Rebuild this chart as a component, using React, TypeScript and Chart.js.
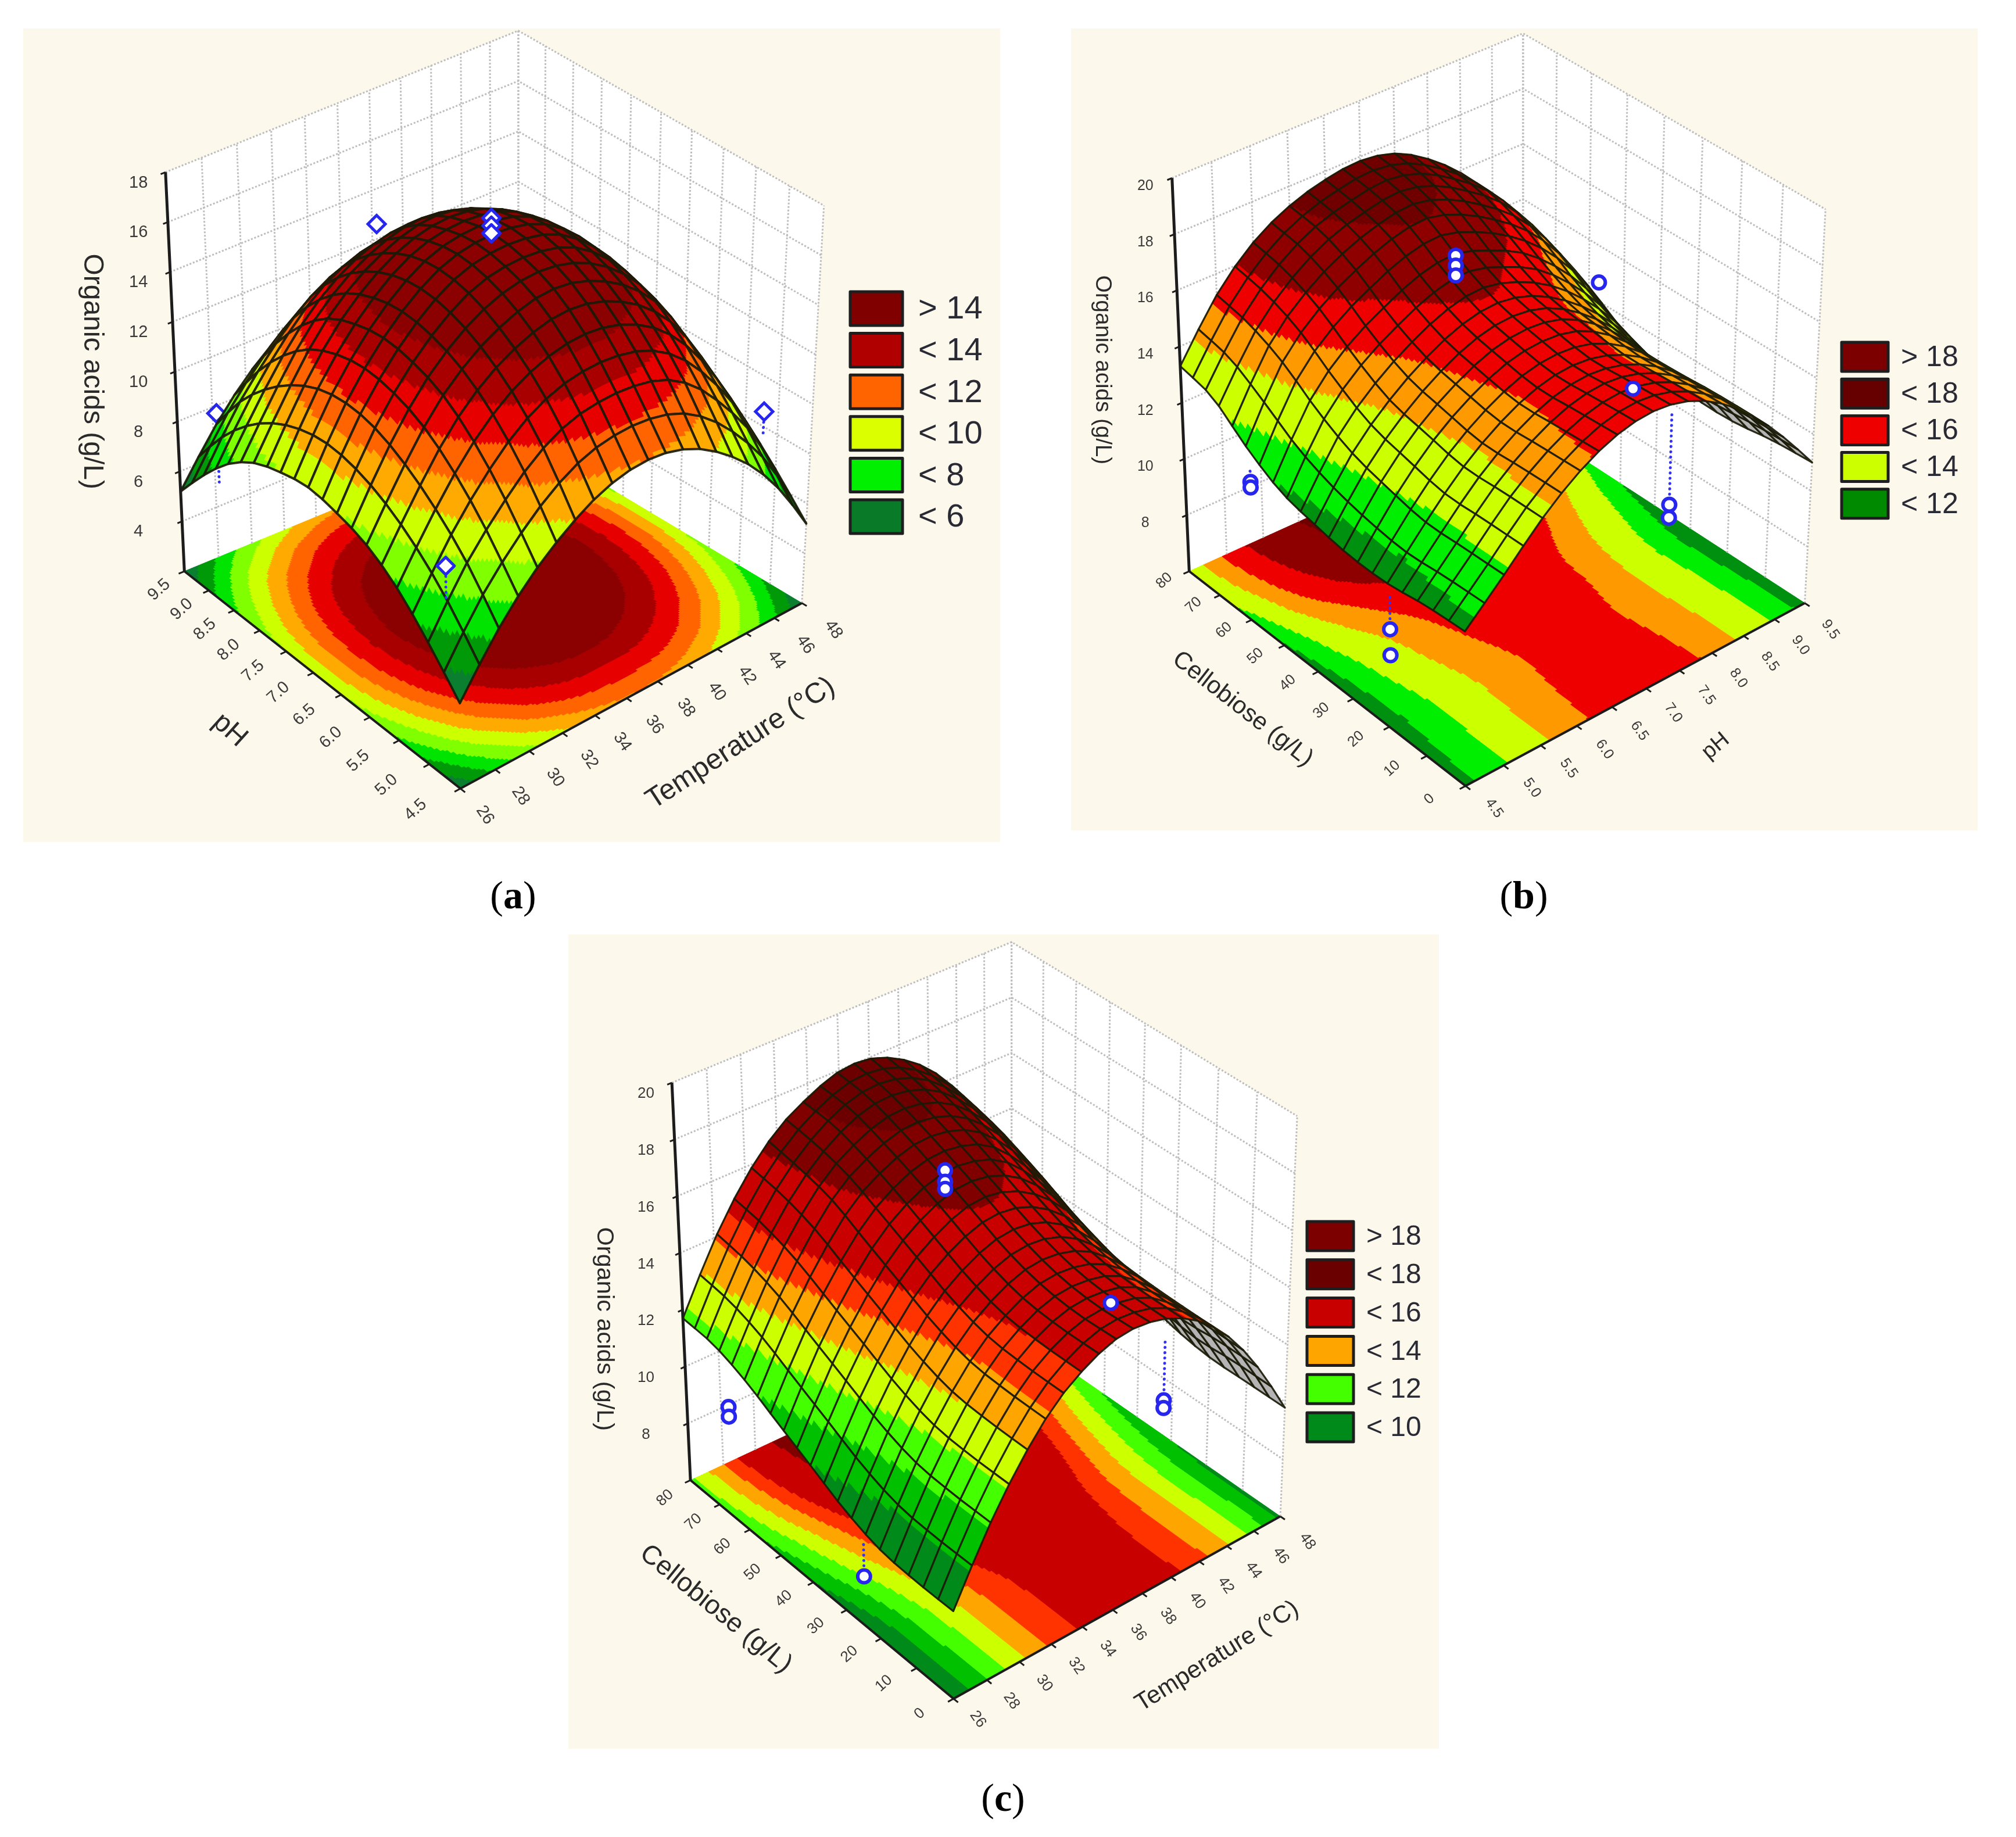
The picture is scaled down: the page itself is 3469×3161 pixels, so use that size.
import React, { useEffect, useRef } from 'react';
import { Chart, registerables } from 'chart.js';
Chart.register(...registerables);

const PH_TICKS = [4.5, 5.0, 5.5, 6.0, 6.5, 7.0, 7.5, 8.0, 8.5, 9.0, 9.5];
const TEMP_TICKS = [26, 28, 30, 32, 34, 36, 38, 40, 42, 44, 46, 48];
const CELLOBIOSE_TICKS = [0, 10, 20, 30, 40, 50, 60, 70, 80];
const Z_TICKS_A = [4, 6, 8, 10, 12, 14, 16, 18];
const Z_TICKS_BC = [8, 10, 12, 14, 16, 18, 20];

// rows: pH 4.5 → 9.5, columns: temperature 26 → 48
const Z_A = [
  [5.2, 7.1, 8.6, 9.7, 10.5, 10.9, 10.9, 10.5, 9.7, 8.6, 7.1, 5.2],
  [6.6, 8.7, 10.3, 11.6, 12.4, 12.7, 12.7, 12.4, 11.6, 10.3, 8.7, 6.6],
  [7.8, 9.9, 11.7, 13.0, 13.8, 14.2, 14.2, 13.8, 13.0, 11.7, 9.9, 7.8],
  [8.6, 10.8, 12.7, 13.95, 14.75, 15.2, 15.2, 14.75, 13.95, 12.7, 10.8, 8.6],
  [9.0, 11.4, 13.2, 14.5, 15.35, 15.7, 15.7, 15.35, 14.5, 13.2, 11.4, 9.0],
  [9.2, 11.6, 13.4, 14.7, 15.55, 15.9, 15.9, 15.55, 14.7, 13.4, 11.6, 9.2],
  [9.0, 11.4, 13.2, 14.5, 15.35, 15.7, 15.7, 15.35, 14.5, 13.2, 11.4, 9.0],
  [8.6, 10.8, 12.7, 13.95, 14.75, 15.2, 15.2, 14.75, 13.95, 12.7, 10.8, 8.6],
  [7.8, 9.9, 11.7, 13.0, 13.8, 14.2, 14.2, 13.8, 13.0, 11.7, 9.9, 7.8],
  [6.6, 8.7, 10.3, 11.6, 12.4, 12.7, 12.7, 12.4, 11.6, 10.3, 8.7, 6.6],
  [5.2, 7.1, 8.6, 9.7, 10.5, 10.9, 10.9, 10.5, 9.7, 8.6, 7.1, 5.2],
];
// rows: cellobiose 0 → 80, columns: pH 4.5 → 9.5
const Z_B = [
  [11.2, 12.45, 13.74, 14.74, 15.38, 15.6, 15.38, 14.74, 13.74, 12.45, 11.0],
  [11.1, 12.4, 13.7, 14.66, 15.28, 15.5, 15.28, 14.66, 13.7, 12.4, 10.9],
  [10.9, 12.35, 13.64, 14.58, 15.19, 15.4, 15.19, 14.58, 13.6, 12.3, 10.7],
  [10.9, 12.6, 13.9, 14.8, 15.4, 15.6, 15.4, 14.7, 13.6, 12.2, 10.7],
  [11.1, 12.95, 14.2, 15.1, 15.7, 15.9, 15.6, 14.9, 13.9, 12.6, 11.0],
  [11.4, 13.6, 14.9, 15.7, 16.3, 16.5, 16.1, 15.5, 14.5, 13.2, 11.5],
  [12.1, 14.45, 15.75, 16.55, 17.1, 17.3, 16.9, 16.2, 15.3, 14.0, 12.3],
  [13.0, 15.0, 16.3, 17.1, 17.5, 17.7, 17.4, 16.7, 15.8, 14.5, 12.8],
  [13.3, 15.25, 16.55, 17.3, 17.7, 17.85, 17.6, 16.9, 15.9, 14.6, 12.9],
];
// rows: cellobiose 0 → 80, columns: temperature 26 → 48
const Z_C = [
  [8.9, 11.0, 12.7, 14.0, 14.8, 15.25, 15.25, 14.9, 14.2, 13.1, 11.6, 9.8],
  [8.9, 11.0, 12.7, 14.0, 14.8, 15.2, 15.2, 14.9, 14.1, 13.1, 11.6, 9.8],
  [9.0, 11.1, 12.8, 14.1, 14.9, 15.35, 15.35, 15.0, 14.2, 13.1, 11.5, 9.8],
  [9.4, 11.5, 13.2, 14.5, 15.3, 15.75, 15.75, 15.3, 14.4, 13.2, 11.7, 10.0],
  [10.0, 12.1, 13.8, 15.1, 15.9, 16.35, 16.3, 15.8, 14.9, 13.6, 12.1, 10.4],
  [10.6, 12.7, 14.4, 15.7, 16.5, 16.9, 16.85, 16.4, 15.4, 14.1, 12.6, 10.9],
  [11.2, 13.3, 15.0, 16.3, 17.0, 17.4, 17.35, 16.9, 16.0, 14.7, 13.2, 11.5],
  [11.6, 13.7, 15.4, 16.6, 17.4, 17.8, 17.75, 17.3, 16.4, 15.2, 13.7, 12.0],
  [11.7, 13.9, 15.6, 16.8, 17.5, 17.95, 17.95, 17.5, 16.7, 15.5, 14.0, 12.3],
];

// each: axis A value, axis B value, organic acids, end of the drop line (or null)
const MARKERS_BACK_A = [[39, 9.5, 12.6, null], [28.5, 9.5, 7.7, 4.8], [48, 5.3, 8.6, 7.7]];
const MARKERS_FRONT_A = [[37, 7, 17.0, null], [37, 7, 16.7, null], [37, 7, 16.4, null], [26.4, 4.85, 9.7, 8.4]];
const MARKERS_BACK_B = [[5.25, 76, 8.75, 9.15], [5.25, 76, 8.55, null], [8.5, 20, 9.1, 12.3], [8.5, 20, 8.64, null], [4.75, 26.4, 8.65, 9.9], [4.75, 26.4, 7.76, null]];
const MARKERS_FRONT_B = [[7, 51, 17.05, null], [7, 51, 16.7, null], [7, 51, 16.35, null], [8.9, 48, 14.25, null], [8.14, 24, 13.3, null]];
const MARKERS_BACK_C = [[44.5, 20, 9.4, 11.6], [44.5, 20, 9.13, null], [27.9, 76, 8.5, null], [27.9, 76, 8.16, null], [31.3, 72, 7.9, null], [27.1, 32, 6.9, 8]];
const MARKERS_FRONT_C = [[37, 51, 16.8, null], [37, 51, 16.4, null], [37, 51, 16.15, null], [41.75, 24, 13.2, null]];

const LEGEND_LABELS_A = ['> 14', '< 14', '< 12', '< 10', '< 8', '< 6'];
const LEGEND_COLORS_A = ['#800000', '#b00000', '#ff6400', '#dcff00', '#00f000', '#087a28'];
const LEGEND_LABELS_B = ['> 18', '< 18', '< 16', '< 14', '< 12'];
const LEGEND_COLORS_B = ['#7c0000', '#660000', '#ee0000', '#ccff00', '#008a00'];
const LEGEND_LABELS_C = ['> 18', '< 18', '< 16', '< 14', '< 12', '< 10'];
const LEGEND_COLORS_C = ['#7c0000', '#6a0000', '#c80000', '#ffa500', '#44ff00', '#008a1a'];

const LEVELS_A = [6, 7, 8, 9, 10, 11, 12, 13, 14];
const BANDS_A = ['#0a7f30', '#009a08', '#00e400', '#80ff00', '#ccff00', '#ffaa00', '#ff6400', '#e60000', '#a80000', '#8b0000'];
const LEVELS_B = [11.5, 12.6, 14, 15, 16, 17.3];
const BANDS_B = ['#009010', '#00ee00', '#ccff00', '#ff9900', '#ee0000', '#8e0000', '#700000'];
const LEVELS_C = [10, 11, 12, 13, 13.9, 14.7, 16.3, 17.4];
const BANDS_C = ['#008a1a', '#00c000', '#44ff00', '#ccff00', '#ffa500', '#ff3300', '#c80000', '#800000', '#6c0000'];

type Pt = [number, number];
const PANELS: any[] = [
  {
    rect: [40, 49, 1681, 1400], view: [30, 30, 1700 / 1568, 1430 / 1568],
    F: [703, 1455], R: [1245, 1105], L: [265, 1045], B: [795, 785],
    FT: [699, 650], RT: [1280, 355], LT: [235, 292], BT: [795, 25],
    zMin: 2, zMax: 18, zTicks: Z_TICKS_A, z: Z_A,
    aTicks: TEMP_TICKS, bTicks: PH_TICKS, aDec: 0, bDec: 1,
    meshA: 20, meshB: 20, sub: 8, grey: false, meshWidth: 4,
    levels: LEVELS_A, bands: BANDS_A,
    markersBack: MARKERS_BACK_A, markersFront: MARKERS_FRONT_A, markerStyle: 'rectRot', markerR: 15, markerW: 5,
    aOff: [[39, 50], [50, 50]], bOff: [[-71, 40], [-40, 35]], aRot: 56, bRot: -42, tickFont: 29,
    zLabelX: 192, zLabelDy: 20,
    titles: [
      { text: 'Organic acids (g/L)', at: [118, 668], rot: 90, size: 48 },
      { text: 'pH', at: [337, 1345], rot: 42, size: 48 },
      { text: 'Temperature (°C)', at: [1148, 1370], rot: -33, size: 49 },
    ],
    legend: { labels: LEGEND_LABELS_A, colors: LEGEND_COLORS_A, x: 1463, y: 502, w: 90, h: 58, pitch: 71.6, tx: 1580, size: 56 },
  },
  {
    rect: [1843, 49, 1560, 1380], view: [1830, 30, 1600 / 1568, 1430 / 1568],
    F: [678, 1450], R: [1250, 1105], L: [212, 1045], B: [775, 760],
    FT: [675, 665], RT: [1285, 362], LT: [183, 303], BT: [775, 30],
    zMin: 6, zMax: 20, zTicks: Z_TICKS_BC, z: Z_B,
    aTicks: PH_TICKS, bTicks: CELLOBIOSE_TICKS, aDec: 1, bDec: 0,
    meshA: 20, meshB: 20, sub: 8, grey: true, meshWidth: 3.2,
    levels: LEVELS_B, bands: BANDS_B,
    markersBack: MARKERS_BACK_B, markersFront: MARKERS_FRONT_B, markerStyle: 'circle', markerR: 11, markerW: 6,
    aOff: [[48, 42], [43, 50]], bOff: [[-61, 25], [-42, 18]], aRot: 55, bRot: -42, tickFont: 25,
    zLabelX: 138, zLabelDy: 15,
    titles: [
      { text: 'Organic acids (g/L)', at: [65, 665], rot: 90, size: 38.5 },
      { text: 'Cellobiose (g/L)', at: [302, 1305], rot: 38, size: 42 },
      { text: 'pH', at: [1100, 1375], rot: -40, size: 38 },
    ],
    legend: { labels: LEGEND_LABELS_B, colors: LEGEND_COLORS_B, x: 3169, y: 589, w: 80, h: 50, pitch: 63.2, tx: 3271, size: 50 },
  },
  {
    rect: [978, 1608, 1498, 1401], view: [970, 1600, 1520 / 1568, 1500 / 1568],
    F: [692, 1383], R: [1272, 1055], L: [225, 990], B: [795, 720],
    FT: [690, 623], RT: [1302, 335], LT: [192, 275], BT: [795, 22],
    zMin: 6, zMax: 20, zTicks: Z_TICKS_BC, z: Z_C,
    aTicks: TEMP_TICKS, bTicks: CELLOBIOSE_TICKS, aDec: 0, bDec: 0,
    meshA: 20, meshB: 20, sub: 8, grey: true, meshWidth: 3.2,
    levels: LEVELS_C, bands: BANDS_C,
    markersBack: MARKERS_BACK_C, markersFront: MARKERS_FRONT_C, markerStyle: 'circle', markerR: 11, markerW: 6,
    aOff: [[43, 37], [48, 45]], bOff: [[-60, 27], [-45, 32]], aRot: 55, bRot: -42, tickFont: 26,
    zLabelX: 146, zLabelDy: 20,
    titles: [
      { text: 'Organic acids (g/L)', at: [72, 718], rot: 90, size: 41.5 },
      { text: 'Cellobiose (g/L)', at: [270, 1222], rot: 39, size: 46 },
      { text: 'Temperature (°C)', at: [1160, 1307], rot: -32, size: 42 },
    ],
    legend: { labels: LEGEND_LABELS_C, colors: LEGEND_COLORS_C, x: 2249, y: 2102, w: 80, h: 50, pitch: 65.8, tx: 2351, size: 48 },
  },
];

const CAPTIONS = [
  { letter: 'a', x: 883, y: 1540 },
  { letter: 'b', x: 2622, y: 1540 },
  { letter: 'c', x: 1726, y: 3093 },
];
const CREAM = '#fdf8ec';
const PERSPECTIVE = 1.14;

function cr(arr: number[], f: number) {
  const n = arr.length;
  const i = Math.max(0, Math.min(Math.floor(f), n - 2));
  const t = f - i;
  const p1 = arr[i], p2 = arr[i + 1];
  const p0 = i > 0 ? arr[i - 1] : 2 * p1 - p2;
  const p3 = i + 2 < n ? arr[i + 2] : 2 * p2 - p1;
  return 0.5 * (2 * p1 + (p2 - p0) * t + (2 * p0 - 5 * p1 + 4 * p2 - p3) * t * t + (3 * p1 - p0 - 3 * p2 + p3) * t * t * t);
}

function geometry(p: any) {
  const [vx, vy, kx, ky] = p.view;
  const [left, top] = p.rect;
  const conv = (q: number[]): Pt => [vx + q[0] * kx - left, vy + q[1] * ky - top];
  const c: any = {};
  for (const k of ['F', 'R', 'L', 'B', 'FT', 'RT', 'LT', 'BT']) c[k] = conv(p[k]);
  const raw = (a: number, b: number, z: number): Pt => {
    const t = (z - p.zMin) / (p.zMax - p.zMin);
    const out: Pt = [0, 0];
    for (const i of [0, 1]) {
      const lo = c.F[i] * (1 - a) * (1 - b) + c.R[i] * a * (1 - b) + c.L[i] * (1 - a) * b + c.B[i] * a * b;
      const hi = c.FT[i] * (1 - a) * (1 - b) + c.RT[i] * a * (1 - b) + c.LT[i] * (1 - a) * b + c.BT[i] * a * b;
      out[i] = lo + (hi - lo) * t;
    }
    return out;
  };
  const warp = (s: number) => (s * PERSPECTIVE) / (1 + (PERSPECTIVE - 1) * s);
  const project = (a: number, b: number, z: number): Pt => raw(warp(a), warp(b), z);
  const fa = (v: number) => (v - p.aTicks[0]) / (p.aTicks[p.aTicks.length - 1] - p.aTicks[0]);
  const fb = (v: number) => (v - p.bTicks[0]) / (p.bTicks[p.bTicks.length - 1] - p.bTicks[0]);
  return { conv, project, raw, fa, fb, c };
}

function buildChart(canvas: HTMLCanvasElement, p: any) {
  const g = geometry(p);
  const { project, raw, fa, fb, conv } = g;
  const W = p.rect[2], H = p.rect[3];
  const pts = (list: Pt[]) => list.map((q) => ({ x: q[0], y: q[1] }));
  const NA = p.meshA * p.sub, NB = p.meshB * p.sub;
  const rows: number[][] = p.z;
  const colCount = rows[0].length, rowCount = rows.length;

  const table: { a: number; b: number; z: number }[][] = [];
  for (let j = 0; j <= NB; j++) {
    const line: any[] = [];
    const fj = (j / NB) * (rowCount - 1);
    for (let i = 0; i <= NA; i++) {
      const fi = (i / NA) * (colCount - 1);
      const col = rows.map((r) => cr(r, fi));
      line.push({ a: i / NA, b: j / NB, z: cr(col, fj) });
    }
    table.push(line);
  }
  const colorOf = (z: number) => {
    let k = 0;
    while (k < p.levels.length && z >= p.levels[k]) k++;
    return p.bands[k];
  };

  const layers: any[] = [];
  const line = (list: Pt[], color: string, width: number, dash?: number[], cap?: string) =>
    layers.push({ data: pts(list), showLine: true, borderColor: color, borderWidth: width, borderDash: dash || [], borderCapStyle: cap || 'butt', pointRadius: 0, fill: false, tension: 0, clip: false });

  const gridC = '#bdbdbd';
  const gridDash = [3, 3];
  for (const z of p.zTicks) line([project(0, 1, z), project(1, 1, z), project(1, 0, z)], gridC, 3, gridDash);
  if (p.zMax !== p.zTicks[p.zTicks.length - 1]) line([project(0, 1, p.zMax), project(1, 1, p.zMax), project(1, 0, p.zMax)], gridC, 3, gridDash);
  for (const t of p.aTicks) line([project(fa(t), 1, p.zMin), project(fa(t), 1, p.zMax)], gridC, 3, gridDash);
  for (const t of p.bTicks) line([project(1, fb(t), p.zMin), project(1, fb(t), p.zMax)], gridC, 3, gridDash);

  const addMarkers = (list: any[]) => {
    for (const m of list) {
      const a = fa(m[0]), b = fb(m[1]);
      if (m[3] !== null) line([raw(a, b, m[2]), raw(a, b, m[3])], '#3232f5', 5, [0.1, 9], 'round');
    }
    layers.push({
      data: pts(list.map((m) => raw(fa(m[0]), fb(m[1]), m[2]))),
      showLine: false, pointStyle: p.markerStyle, pointRadius: p.markerR,
      pointBackgroundColor: '#ffffff', pointBorderColor: '#2626ee', pointBorderWidth: p.markerW, clip: false,
    });
  };
  addMarkers(p.markersBack);

  layers.push({
    stage: 'surface', showLine: false, pointRadius: 0,
    data: pts(rows.flatMap((r, j) => r.map((z, i) => project(i / (colCount - 1), j / (rowCount - 1), z)))),
  });

  const axisC = '#1c1c1c';
  line([project(0, 1, p.zMin), project(0, 1, p.zMax)], axisC, 5);
  line([project(0, 1, p.zMin), project(0, 0, p.zMin), project(1, 0, p.zMin)], axisC, 4);
  for (const t of p.aTicks) line([project(fa(t), 0, p.zMin), project(fa(t), -0.015, p.zMin)], axisC, 3);
  for (const t of p.bTicks) line([project(0, fb(t), p.zMin), project(-0.015, fb(t), p.zMin)], axisC, 3);
  for (const z of p.zTicks) line([project(0, 1, z), project(-0.012, 1, z)], axisC, 3);
  addMarkers(p.markersFront);

  layers.forEach((d, i) => { d.order = layers.length - i; });

  const plugin = {
    id: 'surface3d',
    beforeDatasetsDraw(chart: any) {
      const ctx = chart.ctx;
      const sx = chart.scales.x, sy = chart.scales.y;
      const px = (q: Pt): Pt => [sx.getPixelForValue(q[0]), sy.getPixelForValue(q[1])];
      ctx.fillStyle = '#ffffff';
      for (const poly of [[[0, 1], [1, 1]], [[1, 1], [1, 0]]]) {
        const [u, v] = poly;
        const q = [project(u[0], u[1], p.zMin), project(v[0], v[1], p.zMin), project(v[0], v[1], p.zMax), project(u[0], u[1], p.zMax)].map(px);
        ctx.beginPath();
        q.forEach((o, i) => (i ? ctx.lineTo(o[0], o[1]) : ctx.moveTo(o[0], o[1])));
        ctx.closePath();
        ctx.fill();
      }
      const paths = new Map<string, Path2D>();
      for (let j = 0; j < NB; j++) {
        for (let i = 0; i < NA; i++) {
          const cs = [table[j][i], table[j][i + 1], table[j + 1][i + 1], table[j + 1][i]];
          const col = colorOf((cs[0].z + cs[1].z + cs[2].z + cs[3].z) / 4);
          let path = paths.get(col);
          if (!path) { path = new Path2D(); paths.set(col, path); }
          cs.forEach((c, k) => {
            const o = px(project(c.a, c.b, p.zMin));
            k ? path!.lineTo(o[0], o[1]) : path!.moveTo(o[0], o[1]);
          });
          path.closePath();
        }
      }
      ctx.lineWidth = 1;
      paths.forEach((path, col) => {
        ctx.fillStyle = col; ctx.strokeStyle = col;
        ctx.fill(path); ctx.stroke(path);
      });
    },
    beforeDatasetDraw(chart: any, args: any) {
      const ds = chart.data.datasets[args.index];
      if (ds.stage !== 'surface') return;
      const ctx = chart.ctx;
      const sx = chart.scales.x, sy = chart.scales.y;
      const vert = table.map((r) => r.map((c) => {
        const o = project(c.a, c.b, c.z);
        return [sx.getPixelForValue(o[0]), sy.getPixelForValue(o[1])];
      }));
      const s = p.sub;
      const area = (q: number[][]) => {
        let t = 0;
        for (let i = 0; i < 4; i++) {
          const n = q[(i + 1) % 4];
          t += q[i][0] * n[1] - n[0] * q[i][1];
        }
        return t;
      };
      const f0 = [project(0, 0, p.zMin), project(1, 0, p.zMin), project(1, 1, p.zMin), project(0, 1, p.zMin)] as number[][];
      const sign = Math.sign(area(f0));
      ctx.lineJoin = 'round';
      for (let mb = p.meshB - 1; mb >= 0; mb--) {
        for (let ma = p.meshA - 1; ma >= 0; ma--) {
          const i0 = ma * s, j0 = mb * s;
          const quad = [vert[j0][i0], vert[j0][i0 + s], vert[j0 + s][i0 + s], vert[j0 + s][i0]];
          const outline = () => {
            ctx.beginPath();
            quad.forEach((o, k) => (k ? ctx.lineTo(o[0], o[1]) : ctx.moveTo(o[0], o[1])));
            ctx.closePath();
          };
          const back = Math.sign(area(quad)) !== sign;
          if (back && p.grey) {
            outline();
            ctx.fillStyle = '#b4b4b4';
            ctx.fill();
          } else {
            const paths = new Map<string, Path2D>();
            for (let j = j0; j < j0 + s; j++) {
              for (let i = i0; i < i0 + s; i++) {
                const zc = (table[j][i].z + table[j][i + 1].z + table[j + 1][i + 1].z + table[j + 1][i].z) / 4;
                const col = colorOf(zc);
                let path = paths.get(col);
                if (!path) { path = new Path2D(); paths.set(col, path); }
                const cs = [vert[j][i], vert[j][i + 1], vert[j + 1][i + 1], vert[j + 1][i]];
                cs.forEach((o, k) => (k ? path!.lineTo(o[0], o[1]) : path!.moveTo(o[0], o[1])));
                path.closePath();
              }
            }
            ctx.lineWidth = 1;
            paths.forEach((path, col) => {
              ctx.fillStyle = col; ctx.strokeStyle = col;
              ctx.fill(path); ctx.stroke(path);
            });
          }
          outline();
          ctx.strokeStyle = 'rgba(26,26,8,0.92)';
          ctx.lineWidth = p.meshWidth;
          ctx.stroke();
        }
      }
    },
    afterDatasetsDraw(chart: any) {
      const ctx = chart.ctx;
      const sx = chart.scales.x, sy = chart.scales.y;
      const [left, top] = p.rect;
      const put = (text: string, x: number, y: number, rot: number, size: number, color: string) => {
        ctx.save();
        ctx.translate(sx.getPixelForValue(x), sy.getPixelForValue(y));
        ctx.rotate((rot * Math.PI) / 180);
        ctx.font = `${size}px "Liberation Sans", Arial, sans-serif`;
        ctx.textAlign = 'center';
        ctx.textBaseline = 'middle';
        ctx.fillStyle = color;
        ctx.fillText(text, 0, 0);
        ctx.restore();
      };
      const lerp = (u: number[], v: number[], t: number) => [u[0] + (v[0] - u[0]) * t, u[1] + (v[1] - u[1]) * t];
      const kx = p.view[2], ky = p.view[3];
      p.aTicks.forEach((t: number) => {
        const o = project(fa(t), 0, p.zMin);
        const d = lerp(p.aOff[0], p.aOff[1], fa(t));
        put(t.toFixed(p.aDec), o[0] + d[0] * kx, o[1] + d[1] * ky, p.aRot, p.tickFont, '#3a3a3a');
      });
      p.bTicks.forEach((t: number) => {
        const o = project(0, fb(t), p.zMin);
        const d = lerp(p.bOff[0], p.bOff[1], fb(t));
        put(t.toFixed(p.bDec), o[0] + d[0] * kx, o[1] + d[1] * ky, p.bRot, p.tickFont, '#3a3a3a');
      });
      p.zTicks.forEach((z: number) => {
        const o = project(0, 1, z);
        put(String(z), conv([p.zLabelX, 0])[0], o[1] + p.zLabelDy * ky, 0, p.tickFont, '#3a3a3a');
      });
      for (const t of p.titles) {
        const o = conv(t.at);
        put(t.text, o[0], o[1], t.rot, t.size, '#2a2a2a');
      }
      const lg = p.legend;
      lg.labels.forEach((text: string, i: number) => {
        const x = lg.x - left, y = lg.y - top + i * lg.pitch;
        const x0 = sx.getPixelForValue(x), y0 = sy.getPixelForValue(y);
        ctx.fillStyle = lg.colors[i];
        ctx.fillRect(x0, y0, lg.w, lg.h);
        ctx.lineWidth = 5;
        ctx.strokeStyle = '#1e1e1e';
        ctx.strokeRect(x0, y0, lg.w, lg.h);
        ctx.font = `${lg.size}px "Liberation Sans", Arial, sans-serif`;
        ctx.textAlign = 'left';
        ctx.textBaseline = 'middle';
        ctx.fillStyle = '#2a2a35';
        ctx.fillText(text, sx.getPixelForValue(lg.tx - left), y0 + lg.h / 2 + 2);
      });
    },
  };

  return new Chart(canvas, {
    type: 'scatter',
    data: { datasets: layers },
    options: {
      animation: false, responsive: false, devicePixelRatio: 1, events: [],
      layout: { padding: 0, autoPadding: false },
      scales: {
        x: { type: 'linear', min: 0, max: W, display: false },
        y: { type: 'linear', min: 0, max: H, reverse: true, display: false },
      },
      plugins: { legend: { display: false }, tooltip: { enabled: false }, title: { display: false } },
    },
    plugins: [plugin],
  } as any);
}

function Panel({ panel }: { panel: any }) {
  const ref = useRef<HTMLCanvasElement>(null);
  useEffect(() => {
    const chart = buildChart(ref.current!, panel);
    return () => chart.destroy();
  }, [panel]);
  const [left, top, w, h] = panel.rect;
  return (
    <div style={{ position: 'absolute', left, top, width: w, height: h, background: CREAM }}>
      <canvas ref={ref} width={w} height={h} style={{ width: w, height: h, display: 'block' }} />
    </div>
  );
}

export default function App() {
  return (
    <div style={{ position: 'absolute', left: 0, top: 0, width: 3469, height: 3161, background: '#fff', overflow: 'hidden' }}>
      {PANELS.map((p, i) => <Panel key={i} panel={p} />)}
      {CAPTIONS.map((c) => (
        <div key={c.letter} style={{ position: 'absolute', left: c.x - 100, top: c.y - 50, width: 200, height: 100, lineHeight: '100px', textAlign: 'center', fontFamily: '"Liberation Serif", serif', fontSize: 68, color: '#000' }}>
          (<b>{c.letter}</b>)
        </div>
      ))}
    </div>
  );
}
